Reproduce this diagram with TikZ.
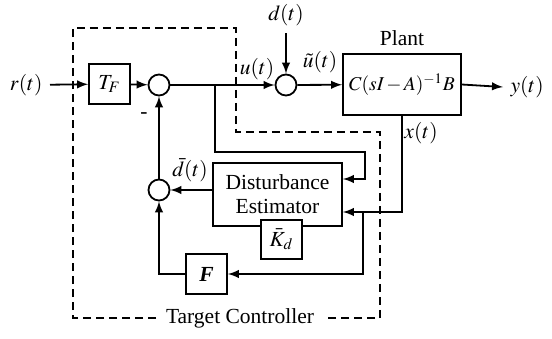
\documentclass[tikz,border=0pt]{standalone}
\usepackage{amsmath}
\usepackage{mathptmx}
\usepackage[no-math]{fontspec}
\setmainfont{Liberation Serif}
\usepackage{tikz}

\begin{document}
\begin{tikzpicture}[x=0.5pt,y=-0.5pt,line width=0.9pt,>=latex,
    every node/.style={font=\fontsize{10.75}{12}\selectfont},
    block/.style={draw,rectangle,inner sep=1pt,fill=white},
    sumnode/.style={draw,circle,minimum size=10.5pt,inner sep=0pt},
    ctrlframe/.style={dash pattern=on 4pt off 2.5pt}]
    \useasboundingbox (0,0) rectangle (552,338);

    % blocks and summing junctions
    \node[anchor=east] (rt) at (50,85) {$r(t)$};
    \node[block,minimum width=20.5pt,minimum height=20pt] (tf) at (109.5,84) {$T_F$};
    \node[sumnode] (sum1) at (159,85) {};
    \node[sumnode] (sum2) at (286,85) {};
    \node (dt) at (286,15) {$d(t)$};
    \node[block,minimum width=59pt,minimum height=30.5pt,font=\fontsize{9.8}{12}\selectfont] (plant) at (402,84.5) {$C(sI\,{-}\,A)^{-1}B$};
    \node[anchor=south] (plantlbl) at (plant.north) {Plant};
    \node[anchor=west] (yt) at (503,87) {$y(t)$};
    \node (ut) at (257,69) {$u(t)$};
    \node[inner sep=1pt] (utl) at (320,62) {$\tilde{u}(t)$};
    \node (xt) at (421,133) {$x(t)$};

    \node[block,align=center,minimum width=64.5pt,minimum height=31.5pt] (est) at (277.5,194.5) {Disturbance\\Estimator};
    \node[block,minimum width=20.5pt,minimum height=19.5pt] (kd) at (281.5,239.5) {$\bar{K}_d$};
    \node[sumnode] (sum3) at (159,190) {};
    \node[inner sep=1pt] (db) at (190,170) {$\bar{d}(t)$};
    \node (minus) at (144,116) {-};
    \node[block,minimum width=20.5pt,minimum height=20pt] (fbox) at (206.5,274) {\textbf{\textit{F}}};
    \node[inner sep=4.5pt] (tc) at (240,318) {Target Controller};

    % branch points
    \coordinate (ub) at (215,85);
    \coordinate (ue) at (365,179);
    \coordinate (xb) at (plant.south |- 0,212);
    \coordinate (fb) at (363,212);

    % signals
    \draw[->] (rt) -- (tf);
    \draw[->] (tf) -- (sum1);
    \draw[->] (sum1) -- (sum2);
    \draw[->] (dt) -- (sum2);
    \draw[->] (sum2) -- (plant);
    \draw[->] (plant.east) -- (yt.west);
    \draw[->] (ub) -- (215,152) -| (ue) -- (ue -| est.east);
    \draw[->] (plant.south) -- (xb) -- (xb -| est.east);
    \draw[->] (fb) |- (fbox.east);
    \draw[->] (fbox.west) -| (sum3.south);
    \draw[->] (sum3.east -| est.west) -- (sum3.east);
    \draw[->] (sum3.north) -- (sum1.south);

    % controller frame
    \draw[ctrlframe] (tc.west) -| (73,28) -| (236,132) -| (380,318) -- (tc.east);
\end{tikzpicture}
\end{document}
